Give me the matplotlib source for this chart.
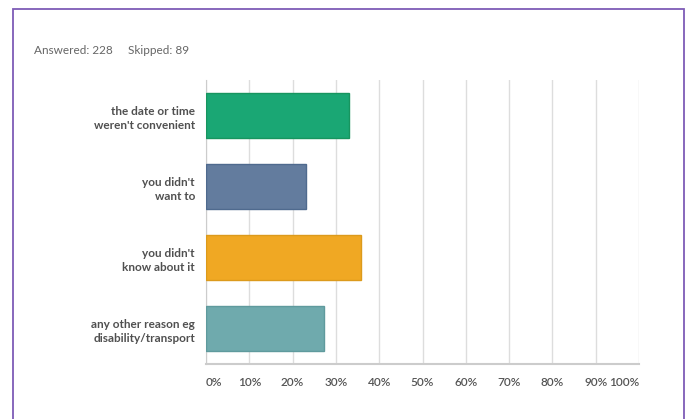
import matplotlib
matplotlib.use("Agg")
from matplotlib import pyplot as plt
from matplotlib.patches import Rectangle

# data
categories = [
    "the date or time\nweren't convenient",
    "you didn't\nwant to",
    "you didn't\nknow about it",
    "any other reason eg\ndisability/transport",
]
percents = [33.1, 23.0, 35.8, 27.3]
colors = ["#1aa774", "#637c9e", "#f0a823", "#6faaad"]
edges = ["#17955f", "#4f6a8e", "#dc9a1c", "#5f9a9d"]
xticks = list(range(0, 101, 10))
answered = 228
skipped = 89

plt.rcParams['font.family'] = ['Lato', 'DejaVu Sans']

fig = plt.figure(figsize=(6.89, 4.19), dpi=100)
fig.patch.set_facecolor("white")

# purple frame around the whole chart
fig.patches.append(Rectangle((13 / 689, -0.05), 671 / 689, 1.05 - 9 / 419,
                             transform=fig.transFigure, fill=False,
                             edgecolor="#7e5cb6", linewidth=1.3))

ax = fig.add_axes([206 / 689, 1 - 364 / 419, 433 / 689, 284 / 419])

ypos = list(range(len(categories)))
ax.barh(ypos, percents, height=0.63, color=colors, edgecolor=edges, linewidth=1, zorder=3)
ax.set_ylim(len(categories) - 0.5, -0.5)
ax.set_xlim(0, 100)

ax.set_xticks(xticks)
ax.set_xticklabels([f"{t}%" for t in xticks], fontsize=8.5, color="#555555",
                   fontweight="semibold")
labels = ax.get_xticklabels()
labels[0].set_horizontalalignment("left")
labels[-1].set_horizontalalignment("right")
ax.set_yticks(ypos)
ax.set_yticklabels(categories, fontsize=8.5, color="#505050", fontweight="bold",
                   linespacing=1.35)
ax.tick_params(axis="both", length=0)
ax.tick_params(axis="x", pad=9)
ax.tick_params(axis="y", pad=8)

ax.grid(axis="x", color="#dddddd", linewidth=1, zorder=0)
for side in ["top", "right"]:
    ax.spines[side].set_visible(False)
ax.spines["left"].set_color("#cccccc")
ax.spines["bottom"].set_color("#cccccc")
ax.spines["bottom"].set_linewidth(1.5)

fig.text(34 / 689, 1 - 50 / 419, f"Answered: {answered}", fontsize=8.5,
         color="#666666", va="center", ha="left")
fig.text(128 / 689, 1 - 50 / 419, f"Skipped: {skipped}", fontsize=8.5,
         color="#666666", va="center", ha="left")

fig.savefig("out.png", dpi=100)
